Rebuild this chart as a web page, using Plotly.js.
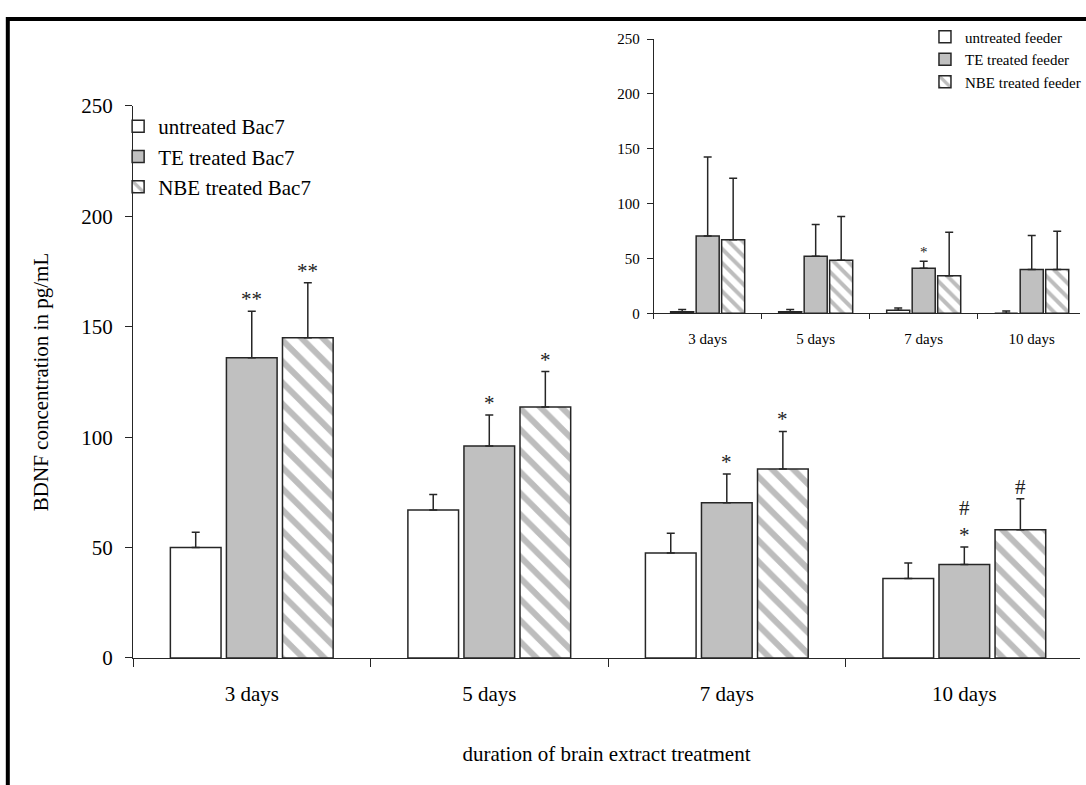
<!DOCTYPE html>
<html>
<head>
<meta charset="utf-8">
<script src="https://cdn.plot.ly/plotly-3.0.1.min.js"></script>
<style>
  html, body { margin: 0; padding: 0; background: #ffffff; }
  #chart { width: 1086px; height: 785px; }
</style>
</head>
<body>
<div id="chart"></div>
<script>
// ---- data ----
var categories = ['3 days', '5 days', '7 days', '10 days'];

// main chart: Bac7 cells
var bacUntreated    = [50, 67, 47.5, 36];
var bacUntreatedErr = [7, 7, 9, 7];
var bacTE           = [136, 96, 70.3, 42.3];
var bacTEErr        = [21, 14, 13, 8];
var bacNBE          = [145, 113.7, 85.6, 58.1];
var bacNBEErr       = [25, 16, 17, 14];
var bacTEMarks      = ['**', '*', '*', '#<br>*'];
var bacNBEMarks     = ['**', '*', '*', '#'];

// inset chart: feeder cells
var feederUntreated    = [1.5, 1.5, 2.7, 0];
var feederUntreatedErr = [2, 2, 2, 2];
var feederTE           = [70.5, 52, 41, 39.8];
var feederTEErr        = [72, 29, 6.4, 31];
var feederNBE          = [67, 48.3, 34.3, 39.8];
var feederNBEErr       = [56, 40, 39.5, 35];
var feederTEMarks      = ['', '', '*', ''];

var seriesNames = ['untreated Bac7', 'TE treated Bac7', 'NBE treated Bac7'];
var insetNames  = ['untreated feeder', 'TE treated feeder', 'NBE treated feeder'];

// ---- styling ----
var FONT = 'Liberation Serif, Times New Roman, serif';
var EDGE = '#262626';
var GRAY = '#c0c0c0';
var BARGAP = 0.292, BARGROUPGAP = 0.096;
var SLOT = (1 - BARGAP) / 3;

function zeros(n) { var a = []; for (var i = 0; i < n; i++) a.push(0); return a; }

function errBar(arr) {
  return { type: 'data', symmetric: false, array: arr, arrayminus: zeros(arr.length),
           color: EDGE, thickness: 1.5, width: 4 };
}

function barTrace(name, y, err, kind, ax, legend, psize) {
  var marker = { color: kind === 1 ? GRAY : '#ffffff',
                 line: { color: EDGE, width: 1.5 } };
  if (kind === 2) {
    marker.pattern = { shape: '\\', fgcolor: '#bdbdbd', bgcolor: '#ffffff',
                       size: psize, solidity: 0.4, fillmode: 'replace' };
  }
  return {
    type: 'bar', name: name, x: categories, y: y, error_y: errBar(err),
    marker: marker, xaxis: ax[0], yaxis: ax[1], legend: legend,
    legendgroup: name, hoverinfo: 'skip'
  };
}

var traces = [
  barTrace(seriesNames[0], bacUntreated, bacUntreatedErr, 0, ['x', 'y'], 'legend', 15),
  barTrace(seriesNames[1], bacTE, bacTEErr, 1, ['x', 'y'], 'legend', 15),
  barTrace(seriesNames[2], bacNBE, bacNBEErr, 2, ['x', 'y'], 'legend', 15),
  barTrace(insetNames[0], feederUntreated, feederUntreatedErr, 0, ['x2', 'y2'], 'legend2', 10),
  barTrace(insetNames[1], feederTE, feederTEErr, 1, ['x2', 'y2'], 'legend2', 10),
  barTrace(insetNames[2], feederNBE, feederNBEErr, 2, ['x2', 'y2'], 'legend2', 10)
];

// significance marks above error bars
var annotations = [];
function addMarks(marks, vals, errs, offset, xr, yr, size, shift) {
  for (var i = 0; i < marks.length; i++) {
    if (!marks[i]) continue;
    annotations.push({
      xref: xr, yref: yr, x: i + offset, y: vals[i] + errs[i],
      text: marks[i], showarrow: false, xanchor: 'center', yanchor: 'bottom',
      yshift: shift, font: { family: FONT, size: size, color: '#222' }
    });
  }
}
addMarks(bacTEMarks, bacTE, bacTEErr, 0, 'x', 'y', 21, -2);
addMarks(bacNBEMarks, bacNBE, bacNBEErr, SLOT, 'x', 'y', 21, -2);
addMarks(feederTEMarks, feederTE, feederTEErr, 0, 'x2', 'y2', 15, -1);

var layout = {
  width: 1086, height: 785,
  margin: { l: 133, r: 0, t: 39, b: 127, pad: 0 },
  paper_bgcolor: '#ffffff', plot_bgcolor: 'rgba(0,0,0,0)',
  font: { family: FONT, size: 21, color: '#000000' },
  barmode: 'group', bargap: BARGAP, bargroupgap: BARGROUPGAP,
  showlegend: true,
  xaxis: {
    type: 'category', domain: [0, 1], anchor: 'y', range: [-0.5, 3.487],
    showline: true, linecolor: EDGE, linewidth: 1, mirror: false,
    ticks: 'outside', ticklen: 8, tickcolor: EDGE, tickson: 'boundaries',
    showgrid: false, zeroline: false, ticklabelstandoff: 17,
    tickfont: { family: FONT, size: 21, color: '#000' },
    title: { text: 'duration of brain extract treatment', standoff: 41,
             font: { family: FONT, size: 21, color: '#000' } },
    fixedrange: true
  },
  yaxis: {
    domain: [0, 0.8918], anchor: 'x', range: [0, 250], dtick: 50,
    showline: true, linecolor: EDGE, linewidth: 1,
    ticks: 'outside', ticklen: 7, tickcolor: EDGE, ticklabelstandoff: 8,
    showgrid: false, zeroline: false,
    tickfont: { family: FONT, size: 21, color: '#000' },
    title: { text: 'BDNF concentration in pg/mL', standoff: 26,
             font: { family: FONT, size: 21, color: '#000' } },
    fixedrange: true
  },
  xaxis2: {
    type: 'category', domain: [0.5498, 1], anchor: 'y2', range: [-0.5, 3.447],
    showline: true, linecolor: EDGE, linewidth: 1,
    ticks: 'outside', ticklen: 5, tickcolor: EDGE, tickson: 'boundaries',
    showgrid: false, zeroline: false, ticklabelstandoff: 12,
    tickfont: { family: FONT, size: 15, color: '#000' },
    fixedrange: true
  },
  yaxis2: {
    domain: [0.5569, 1], anchor: 'x2', range: [0, 250], dtick: 50,
    showline: true, linecolor: EDGE, linewidth: 1,
    ticks: 'outside', ticklen: 6, tickcolor: EDGE, ticklabelstandoff: 4,
    showgrid: false, zeroline: false,
    tickfont: { family: FONT, size: 15, color: '#000' },
    fixedrange: true
  },
  legend: {
    x: -0.0157, y: 0.8918, xanchor: 'left', yanchor: 'top',
    bgcolor: 'rgba(0,0,0,0)', traceorder: 'grouped', tracegroupgap: 0,
    font: { family: FONT, size: 21, color: '#000' }, itemclick: false, itemdoubleclick: false
  },
  legend2: {
    x: 0.8363, y: 1.03, xanchor: 'left', yanchor: 'top',
    bgcolor: 'rgba(0,0,0,0)', traceorder: 'grouped', tracegroupgap: 0,
    font: { family: FONT, size: 15, color: '#000' }, itemclick: false, itemdoubleclick: false
  },
  annotations: annotations,
  shapes: [
    { type: 'line', xref: 'paper', yref: 'paper', x0: -0.1322, x1: 1.05, y0: 1.0323, y1: 1.0323,
      line: { color: '#000', width: 4 } },
    { type: 'line', xref: 'paper', yref: 'paper', x0: -0.1322, x1: -0.1322, y0: -0.3, y1: 1.0355,
      line: { color: '#000', width: 4 } }
  ]
};

Plotly.newPlot('chart', traces, layout, { displayModeBar: false, staticPlot: true });
</script>
</body>
</html>
